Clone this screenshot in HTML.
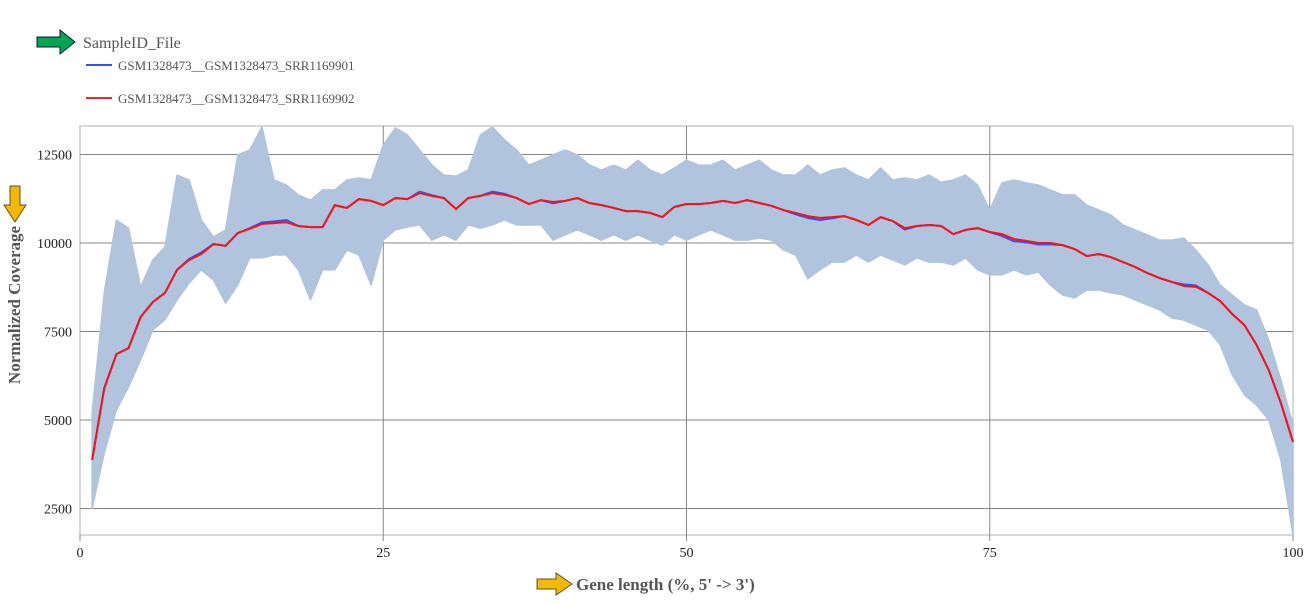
<!DOCTYPE html>
<html><head><meta charset="utf-8"><style>
body{margin:0;background:#fff;width:1308px;height:599px;overflow:hidden}
svg{font-family:"Liberation Serif",serif}
</style></head><body>
<svg id="chart" width="1308" height="599">
<g id="legend">
<polygon points="37,37 60,37 60,30 75,42 60,54 60,47 37,47" fill="#00a650" stroke="#114" stroke-width="1"/>
<text x="83" y="48" font-size="16" fill="#555">SampleID_File</text>
<line x1="86" y1="65" x2="112" y2="65" stroke="#3050ff" stroke-width="2"/>
<text x="118" y="70" font-size="13" fill="#555">GSM1328473__GSM1328473_SRR1169901</text>
<line x1="86" y1="98" x2="112" y2="98" stroke="#ff2020" stroke-width="2"/>
<text x="118" y="103" font-size="13" fill="#555">GSM1328473__GSM1328473_SRR1169902</text>
</g>
<g id="plot"></g>
<polygon points="10,186 20,186 20,205 26,205 15,222 4,205 10,205" fill="#f5b800" stroke="#553" stroke-width="1"/>
<text transform="translate(20,305) rotate(-90)" text-anchor="middle" font-size="17" font-weight="bold" fill="#555">Normalized Coverage</text>
<polygon points="537,579 556,579 556,573 572,584 556,595 556,589 537,589" fill="#f5b800" stroke="#553" stroke-width="1"/>
<text x="576" y="590" font-size="17" font-weight="bold" fill="#555">Gene length (%, 5' -&gt; 3')</text>
</svg>
<script>
const yTicks=[2500,5000,7500,10000,12500];
const xTicks=[0,25,50,75,100];
const redVals=[3870,5900,6860,7030,7910,8330,8590,9240,9520,9690,9970,9920,10280,10400,10540,10560,10590,10480,10450,10450,11070,10990,11240,11190,11070,11270,11240,11410,11330,11270,10960,11270,11330,11410,11360,11270,11100,11210,11160,11190,11270,11130,11070,10990,10900,10900,10850,10730,11020,11100,11100,11130,11190,11130,11210,11130,11050,10930,10850,10760,10710,10730,10760,10650,10510,10730,10620,10420,10480,10510,10480,10250,10370,10420,10310,10250,10110,10060,10000,10000,9940,9830,9630,9690,9600,9460,9320,9150,9010,8900,8790,8760,8590,8360,7990,7680,7120,6410,5480,4380];
const blueOffsets=[0,0,0,0,0,0,0,0,30,40,0,0,0,20,40,50,60,0,0,0,0,0,0,0,0,0,0,40,20,0,0,0,0,40,30,0,0,0,-40,0,0,0,0,0,0,0,0,0,0,0,0,0,0,0,0,0,0,0,-40,-50,-60,-30,0,0,0,0,0,-40,0,0,0,0,0,0,0,-50,-60,-40,-40,-40,0,0,0,0,0,0,0,0,0,0,40,40,0,0,0,0,0,0,0,0];
const upperVals=[5200,8600,10650,10420,8760,9520,9890,11920,11780,10650,10170,10370,12490,12630,13280,11780,11640,11360,11210,11500,11500,11780,11840,11780,12770,13250,13050,12630,12210,11920,11890,12060,13050,13280,12910,12630,12200,12340,12490,12630,12490,12200,12060,12200,12060,12340,12060,11920,12120,12340,12200,12200,12340,12060,12200,12340,12060,11920,11920,12200,11920,12060,12120,11920,11780,12120,11780,11840,11780,11920,11720,11780,11920,11640,10930,11700,11780,11700,11640,11500,11360,11360,11070,10930,10790,10510,10370,10230,10080,10080,10140,9800,9380,8810,8530,8250,8110,7260,6130,4860];
const lowerVals=[2500,4070,5280,5930,6700,7540,7830,8390,8870,9240,8950,8300,8810,9580,9580,9660,9660,9240,8390,9240,9240,9800,9660,8810,10080,10370,10450,10510,10080,10230,10080,10510,10420,10510,10650,10510,10510,10510,10080,10230,10370,10230,10080,10230,10080,10230,10080,9940,10230,10080,10230,10370,10230,10080,10080,10140,10080,9800,9660,8990,9240,9460,9460,9660,9460,9660,9520,9380,9580,9460,9460,9380,9580,9240,9100,9100,9240,9100,9180,8810,8530,8450,8670,8670,8590,8530,8390,8250,8110,7880,7820,7680,7540,7120,6270,5710,5420,5000,3870,1750];
const NS="http://www.w3.org/2000/svg";
const L=80,R=1293,T=126,B=535;
const xs=v=>L+(R-L)*v/100;
const ys=v=>243-(v-10000)*88.5/2500;
const g=document.getElementById('plot');
function mk(t,a){const e=document.createElementNS(NS,t);for(const k in a)e.setAttribute(k,a[k]);g.appendChild(e);return e;}
const frame=mk('rect',{x:L,y:T,width:R-L,height:B-T,fill:'none',stroke:'#ccc','stroke-width':1.5});


yTicks.forEach(t=>{
 const l=mk('line',{x1:L,x2:R,y1:ys(t),y2:ys(t),stroke:'#888','stroke-width':1});
 
 
 const tx=mk('text',{x:L-8,y:ys(t)+5,'text-anchor':'end','font-size':14,fill:'#222'});
 tx.textContent=t;
 
 
});
xTicks.forEach(t=>{
 if(t>0&&t<100){const l=mk('line',{x1:xs(t),x2:xs(t),y1:T,y2:B,stroke:'#888','stroke-width':1});
 
 }
 const tk=mk('line',{x1:xs(t),x2:xs(t),y1:B,y2:B+6,stroke:'#888'});
 
 
 const tx=mk('text',{x:xs(t),y:B+22,'text-anchor':'middle','font-size':14,fill:'#222'});
 tx.textContent=t;
 
 
});
let pts=upperVals.map((v,i)=>xs(i+1)+','+ys(v));
for(let i=lowerVals.length-1;i>=0;i--)pts.push(xs(i+1)+','+ys(lowerVals[i]));
const band=mk('polygon',{points:pts.join(' '),fill:'#b0c4de',stroke:'#b0c4de','stroke-width':1.5,'stroke-linejoin':'round'});


const blue=mk('polyline',{points:redVals.map((v,i)=>xs(i+1)+','+ys(v+blueOffsets[i])).join(' '),fill:'none',stroke:'#3050ff','stroke-width':2});


const red=mk('polyline',{points:redVals.map((v,i)=>xs(i+1)+','+ys(v)).join(' '),fill:'none',stroke:'#ff1010','stroke-width':2});


</script>
</body></html>
